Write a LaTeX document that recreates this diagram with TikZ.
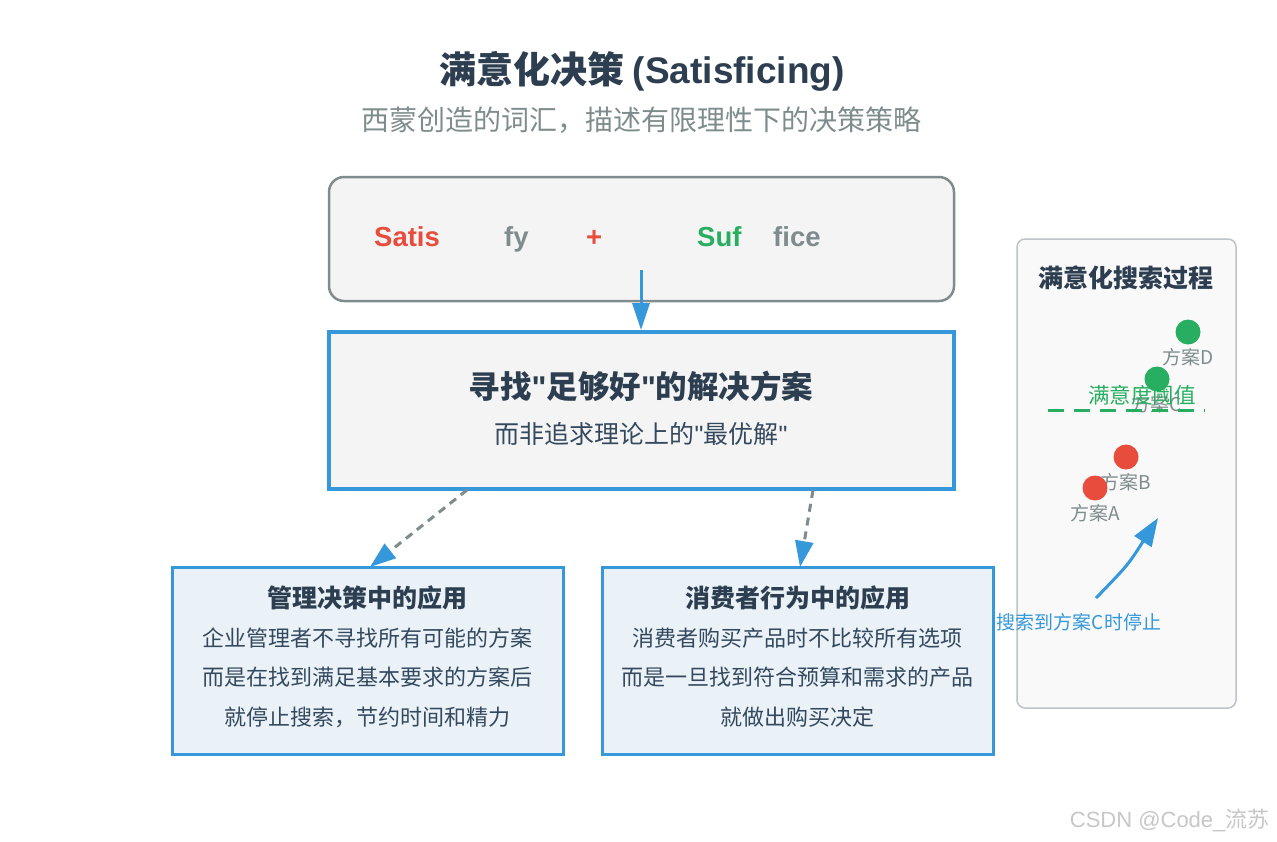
\documentclass[tikz,border=0pt]{standalone}
\usepackage{fontspec}
\setmainfont{Noto Sans CJK SC}
\setmonofont{Liberation Sans}
\newfontfamily\lat{Liberation Sans}
\usetikzlibrary{arrows.meta}
\definecolor{dark}{HTML}{2C3E50}
\definecolor{body}{HTML}{34495E}
\definecolor{gray1}{HTML}{7F8C8D}
\definecolor{blue1}{HTML}{3498DB}
\definecolor{red1}{HTML}{E74C3C}
\definecolor{green1}{HTML}{27AE60}
\definecolor{boxfill}{HTML}{F4F4F4}
\definecolor{appfill}{HTML}{EAF2F8}
\definecolor{panelfill}{HTML}{F9F9F9}
\definecolor{panelline}{HTML}{BDC3C7}
\newcommand{\fs}[1]{\fontsize{#1}{#1}\selectfont}
\newcommand{\dq}{{\ttfamily"}}
\tikzset{
  tip/.style={-{Triangle[length=27pt,width=17pt]}},
  dasharrow/.style={draw=gray1,line width=3pt,dash pattern=on 8pt off 6pt,-{Triangle[length=26pt,width=18pt,fill=blue1,color=blue1]}},
  appbox/.style={draw=blue1,line width=3pt,fill=appfill,minimum width=391pt,minimum height=187pt,inner sep=0pt},
  apptitle/.style={font=\fs{25}\bfseries,text=dark,anchor=center},
  appline/.style={font=\fs{22},text=body,anchor=center},
  dot/.style={circle,inner sep=0pt,minimum size=25pt},
  optlabel/.style={font=\fs{19},text=gray1,anchor=center},
  part/.style={font=\lat\fs{27.5}\bfseries,anchor=base west,inner sep=0pt},
}
\begin{document}
\begin{tikzpicture}[x=1pt,y=-1pt]
\useasboundingbox[fill=white] (0,0) rectangle (1277,841);
% title
\node[text=dark,anchor=center] (title) at (642,71) {\fs{37}\bfseries 满意化决策 {\lat (Satisficing)}};
\node[text=gray1,anchor=center] (subtitle) at (641,120) {\fs{28}西蒙创造的词汇，描述有限理性下的决策策略};
% top box
\node[draw=gray1,line width=2.5pt,fill=boxfill,rounded corners=15pt,minimum width=625pt,minimum height=124pt,inner sep=0pt] (top) at (641.5,239) {};
\node[part,text=red1] (p1) at (374,246.5) {Satis};
\node[part,text=gray1] (p2) at (504,246.5) {fy};
\node[part,text=red1] (p3) at (586,246.5) {+};
\node[part,text=green1] (p4) at (697,246.5) {Suf};
\node[part,text=gray1] (p5) at (773,246.5) {fice};
% main box
\node[draw=blue1,line width=4pt,fill=boxfill,minimum width=625pt,minimum height=157pt,inner sep=0pt] (main) at (641.5,410.5) {};
\node[text=dark,anchor=center] (mt) at (641,386) {\fs{31.5}\bfseries 寻找\dq 足够好\dq 的解决方案};
\node[text=body,anchor=center] (ms) at (641,434) {\fs{25}而非追求理论上的\dq 最优解\dq};
\coordinate (a0) at (641,270);
\draw[blue1,line width=3pt,tip] (a0) -- (main.north -| a0);
% application boxes
\node[appbox] (left) at (367.5,660.5) {};
\node[appbox] (right) at (797.5,660.5) {};
\node[apptitle] at (367.5,598) {管理决策中的应用};
\node[appline] at (367.5,638) {企业管理者不寻找所有可能的方案};
\node[appline] at (367.5,677) {而是在找到满足基本要求的方案后};
\node[appline] at (367.5,717) {就停止搜索，节约时间和精力};
\node[apptitle] at (797.5,598) {消费者行为中的应用};
\node[appline] at (797.5,638) {消费者购买产品时不比较所有选项};
\node[appline] at (797.5,677) {而是一旦找到符合预算和需求的产品};
\node[appline] at (797.5,717) {就做出购买决定};
\coordinate (d1) at (467,490);
\coordinate (d2) at (813,490);
\coordinate (e1) at (370,567);
\coordinate (e2) at (800,567);
\draw[dasharrow] (d1) -- (e1);
\draw[dasharrow] (d2) -- (e2);
% right panel
\node[draw=panelline,line width=1.5pt,fill=panelfill,rounded corners=8pt,minimum width=219pt,minimum height=469pt,inner sep=0pt] (panel) at (1126.5,473.5) {};
\node[text=dark,anchor=center] (pt) at (1126,278) {\fs{25}\bfseries 满意化搜索过程};
\node[dot,fill=green1] (D) at (1188,332) {};
\node[optlabel] (Dl) at (1188,357) {方案D};
\node[dot,fill=green1] (C) at (1157,379) {};
\node[optlabel] (Cl) at (1157,404) {方案C};
\coordinate (t1) at (1048,410);
\coordinate (t2) at (1205,410);
\draw[green1,line width=3pt,dash pattern=on 16pt off 10pt] (t1) -- (t2);
\node[text=green1,anchor=center] (tl) at (1142,395) {\fs{21.5}满意度阈值};
\node[dot,fill=red1] (B) at (1126,457) {};
\node[optlabel] (Bl) at (1126,482) {方案B};
\node[dot,fill=red1] (A) at (1095,488) {};
\node[optlabel] (Al) at (1095,513) {方案A};
\coordinate (s0) at (1096,598);
\coordinate (s1) at (1158,518);
\draw[blue1,line width=3pt,-{Triangle[length=28pt,width=20pt]}] (s0) .. controls (1128,565) .. (s1);
\node[text=blue1,anchor=center] (sl) at (1079,622) {\fs{19}搜索到方案C时停止};
% watermark
\node[text=black!22,anchor=east] (wm) at (1273,820) {\fs{22}{\lat CSDN @Code\_}流苏};
\end{tikzpicture}
\end{document}
